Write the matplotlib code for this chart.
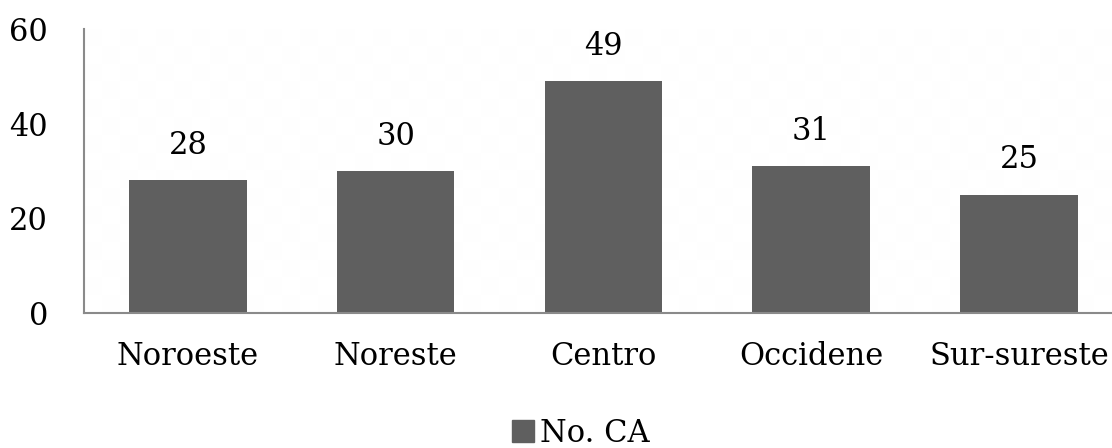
import numpy as np
import matplotlib.pyplot as plt
from matplotlib.patches import Patch

regiones = ["Noroeste", "Noreste", "Centro", "Occidene", "Sur-sureste"]
valores = [28, 30, 49, 31, 25]
yticks = [0, 20, 40, 60]

plt.rcParams['font.family'] = ['DejaVu Serif']

fig = plt.figure(figsize=(11.12, 4.48), dpi=100)
ax = fig.add_axes([84 / 1112, 1 - 313 / 448, 1 - 84 / 1112, 284 / 448])

x = np.arange(len(regiones))
barras = ax.bar(x, valores, width=0.565, color='#5f5f5f', zorder=2)

ax.set_ylim(0, 60)
ax.set_xlim(-0.5, 4.448)
ax.set_yticks(yticks)
ax.set_xticks(x)
ax.set_xticklabels(regiones)
ax.tick_params(axis='both', length=0, labelsize=22, colors='black')
ax.tick_params(axis='y', pad=26)
ax.tick_params(axis='x', pad=20)

for s in ['top', 'right']:
    ax.spines[s].set_visible(False)
for s in ['left', 'bottom']:
    ax.spines[s].set_color('#8a8a8a')
    ax.spines[s].set_linewidth(1.5)
    ax.spines[s].set_zorder(3)

# fondo con cuadritos muy tenues
cuadros = (np.indices((16, 57)).sum(axis=0) % 2).astype(float)
ax.imshow(cuadros, cmap='gray', vmin=-30, vmax=1, extent=[0, 1, 0, 1],
          transform=ax.transAxes, aspect='auto', interpolation='nearest',
          zorder=0, alpha=0.035)
ax.set_xlim(-0.5, 4.448)
ax.set_ylim(0, 60)

for b, v in zip(barras, valores):
    ax.annotate(str(v), (b.get_x() + b.get_width() / 2, v),
                xytext=(0, 25), textcoords='offset points',
                ha='center', va='center', fontsize=22)

fig.legend(handles=[Patch(color='#5f5f5f', label='No. CA')],
           loc='center', bbox_to_anchor=(581 / 1112, 1 - 433 / 448), frameon=False,
           fontsize=22, handlelength=0.7, handleheight=0.7, handletextpad=0.2)

fig.savefig('out.png', dpi=100)
